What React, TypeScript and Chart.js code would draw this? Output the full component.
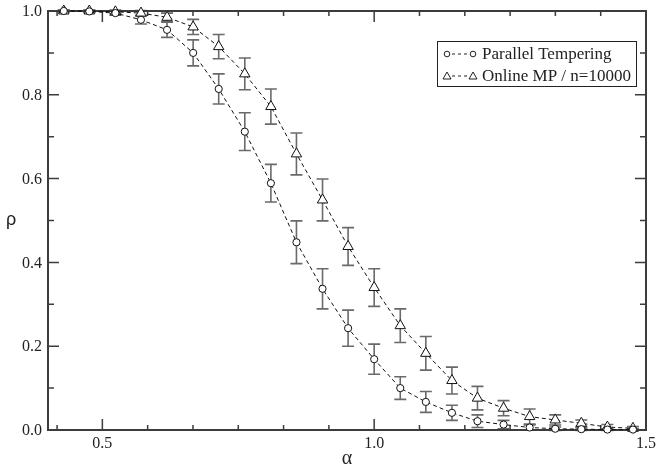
import React, { useEffect, useRef } from 'react';
import { Chart, registerables } from 'chart.js';

Chart.register(...registerables);

const alphaValues = [0.429, 0.476, 0.524, 0.571, 0.619, 0.667, 0.714, 0.762, 0.810, 0.857, 0.905, 0.952, 1.000, 1.048, 1.095, 1.143, 1.190, 1.238, 1.286, 1.333, 1.381, 1.429, 1.476];
const rhoPT = [1.0, 0.999, 0.995, 0.979, 0.955, 0.9, 0.814, 0.712, 0.589, 0.448, 0.337, 0.243, 0.169, 0.1, 0.067, 0.041, 0.021, 0.013, 0.006, 0.003, 0.002, 0.001, 0.001];
const errPT = [0.002, 0.003, 0.005, 0.01, 0.018, 0.031, 0.036, 0.045, 0.045, 0.051, 0.048, 0.043, 0.036, 0.027, 0.025, 0.018, 0.015, 0.01, 0.006, 0.004, 0.003, 0.002, 0.002];
const rhoMP = [1.0, 1.0, 0.998, 0.995, 0.985, 0.962, 0.915, 0.85, 0.772, 0.659, 0.549, 0.438, 0.34, 0.249, 0.183, 0.118, 0.076, 0.052, 0.032, 0.024, 0.016, 0.007, 0.004];
const errMP = [0.002, 0.002, 0.004, 0.006, 0.01, 0.018, 0.029, 0.038, 0.042, 0.05, 0.05, 0.045, 0.045, 0.04, 0.04, 0.032, 0.028, 0.018, 0.018, 0.012, 0.008, 0.006, 0.004];

const seriesLabels = ['Parallel Tempering', 'Online MP / n=10000'];
const xMajorTicks = [0.5, 1.0, 1.5];
const xTickLabels = ['0.5', '1.0', '1.5'];
const xMinorTicks = [0.4167, 0.5833, 0.6667, 0.75, 0.8333, 0.9167, 1.0833, 1.1667, 1.25, 1.3333, 1.4167];
const yMajorTicks = [0, 0.2, 0.4, 0.6, 0.8, 1.0];
const yTickLabels = ['0.0', '0.2', '0.4', '0.6', '0.8', '1.0'];
const yMinorTicks = [0.1, 0.3, 0.5, 0.7, 0.9];
const xTitle = 'α';
const yTitle = 'ρ';

const errorSets = [errPT, errMP];
const valueSets = [rhoPT, rhoMP];

const FRAME = '#3c3c3c';
const SERIF = '"Liberation Serif", "Times New Roman", serif';

const decorPlugin = {
  id: 'decor',
  beforeDatasetsDraw(chart: any) {
    const ctx = chart.ctx;
    const xs = chart.scales.x;
    const ys = chart.scales.y;
    const a = chart.chartArea;
    ctx.save();
    // error bars
    ctx.strokeStyle = '#6a6a6a';
    ctx.lineWidth = 1.6;
    for (let s = 0; s < valueSets.length; s++) {
      const vals = valueSets[s];
      const errs = errorSets[s];
      for (let i = 0; i < alphaValues.length; i++) {
        const px = xs.getPixelForValue(alphaValues[i]);
        const top = ys.getPixelForValue(vals[i] + errs[i]);
        const bot = ys.getPixelForValue(vals[i] - errs[i]);
        ctx.beginPath();
        ctx.moveTo(px, top);
        ctx.lineTo(px, bot);
        ctx.moveTo(px - 6, top);
        ctx.lineTo(px + 6, top);
        ctx.moveTo(px - 6, bot);
        ctx.lineTo(px + 6, bot);
        ctx.stroke();
      }
    }
    // frame
    ctx.strokeStyle = FRAME;
    ctx.lineWidth = 2;
    ctx.strokeRect(a.left, a.top, a.right - a.left, a.bottom - a.top);
    // ticks
    ctx.lineWidth = 1.5;
    ctx.beginPath();
    for (const v of xMajorTicks) {
      const px = xs.getPixelForValue(v);
      ctx.moveTo(px, a.bottom); ctx.lineTo(px, a.bottom - 11);
      ctx.moveTo(px, a.top); ctx.lineTo(px, a.top + 11);
    }
    for (const v of xMinorTicks) {
      const px = xs.getPixelForValue(v);
      ctx.moveTo(px, a.bottom); ctx.lineTo(px, a.bottom - 5);
      ctx.moveTo(px, a.top); ctx.lineTo(px, a.top + 5);
    }
    for (const v of yMajorTicks) {
      const py = ys.getPixelForValue(v);
      ctx.moveTo(a.left, py); ctx.lineTo(a.left + 11, py);
      ctx.moveTo(a.right, py); ctx.lineTo(a.right - 11, py);
    }
    for (const v of yMinorTicks) {
      const py = ys.getPixelForValue(v);
      ctx.moveTo(a.left, py); ctx.lineTo(a.left + 6, py);
      ctx.moveTo(a.right, py); ctx.lineTo(a.right - 6, py);
    }
    ctx.stroke();
    ctx.restore();
  },
  afterDatasetsDraw(chart: any) {
    const ctx = chart.ctx;
    const xs = chart.scales.x;
    const ys = chart.scales.y;
    const a = chart.chartArea;
    ctx.save();
    ctx.fillStyle = '#222';
    ctx.font = '16px ' + SERIF;
    ctx.textBaseline = 'middle';
    ctx.textAlign = 'right';
    yMajorTicks.forEach((v, i) => {
      ctx.fillText(yTickLabels[i], a.left - 6, ys.getPixelForValue(v) + 1);
    });
    ctx.textAlign = 'center';
    xMajorTicks.forEach((v, i) => {
      ctx.fillText(xTickLabels[i], xs.getPixelForValue(v), a.bottom + 14);
    });
    // axis titles
    ctx.font = '20px ' + SERIF;
    ctx.fillText(xTitle, (a.left + a.right) / 2, a.bottom + 29);
    ctx.font = '18px "Liberation Sans", Arial, sans-serif';
    ctx.fillText(yTitle, 11, (a.top + a.bottom) / 2);

    // legend
    const bx = 437.5, by = 41.5, bw = 199, bh = 45;
    ctx.fillStyle = '#fff';
    ctx.fillRect(bx, by, bw, bh);
    ctx.strokeStyle = '#222';
    ctx.lineWidth = 1;
    ctx.strokeRect(bx, by, bw, bh);
    const rows = [54, 76];
    rows.forEach((ry, i) => {
      ctx.save();
      ctx.strokeStyle = '#222';
      ctx.lineWidth = 1;
      ctx.setLineDash([3, 3]);
      ctx.beginPath();
      ctx.moveTo(452, ry);
      ctx.lineTo(468, ry);
      ctx.stroke();
      ctx.restore();
      ctx.lineWidth = 1;
      ctx.strokeStyle = '#222';
      for (const cx of [447, 473]) {
        ctx.beginPath();
        if (i === 0) {
          ctx.arc(cx, ry, 2.8, 0, Math.PI * 2);
        } else {
          ctx.moveTo(cx, ry - 4);
          ctx.lineTo(cx + 4, ry + 3);
          ctx.lineTo(cx - 4, ry + 3);
          ctx.closePath();
        }
        ctx.stroke();
      }
      ctx.fillStyle = '#222';
      ctx.font = '17px ' + SERIF;
      ctx.textAlign = 'left';
      ctx.textBaseline = 'middle';
      ctx.fillText(seriesLabels[i], 482, ry + 1);
    });
    ctx.restore();
  },
};

export default function App() {
  const ref = useRef<HTMLCanvasElement | null>(null);
  useEffect(() => {
    document.body.style.margin = '0';
    const canvas = ref.current;
    if (!canvas) return;
    const mk = (vals: number[]) => alphaValues.map((x, i) => ({ x, y: vals[i] }));
    const common = {
      showLine: true,
      borderColor: '#111',
      borderWidth: 1,
      borderDash: [4, 3],
      tension: 0,
      pointBackgroundColor: '#fff',
      pointBorderColor: '#111',
      pointBorderWidth: 1,
      clip: false as any,
    };
    const chart = new Chart(canvas, {
      type: 'scatter',
      data: {
        datasets: [
          { ...common, label: seriesLabels[0], data: mk(rhoPT), pointStyle: 'circle', pointRadius: 3.6 },
          { ...common, label: seriesLabels[1], data: mk(rhoMP), pointStyle: 'triangle', pointRadius: 6 },
        ],
      },
      options: {
        responsive: false,
        animation: false,
        layout: { padding: { top: 11, right: 11, left: 0, bottom: 0 } },
        plugins: { legend: { display: false }, tooltip: { enabled: false } },
        scales: {
          x: {
            type: 'linear', min: 0.4, max: 1.5,
            grid: { display: false }, border: { display: false },
            ticks: { display: false },
            afterFit: (s: any) => { s.height = 40; },
          },
          y: {
            type: 'linear', min: 0, max: 1,
            grid: { display: false }, border: { display: false },
            ticks: { display: false },
            afterFit: (s: any) => { s.width = 48; },
          },
        },
      },
      plugins: [decorPlugin],
    } as any);
    return () => chart.destroy();
  }, []);
  return (
    <div style={{ position: 'absolute', left: 0, top: 0, width: 657, height: 470 }}>
      <canvas ref={ref} width={657} height={470} style={{ display: 'block' }} />
    </div>
  );
}
